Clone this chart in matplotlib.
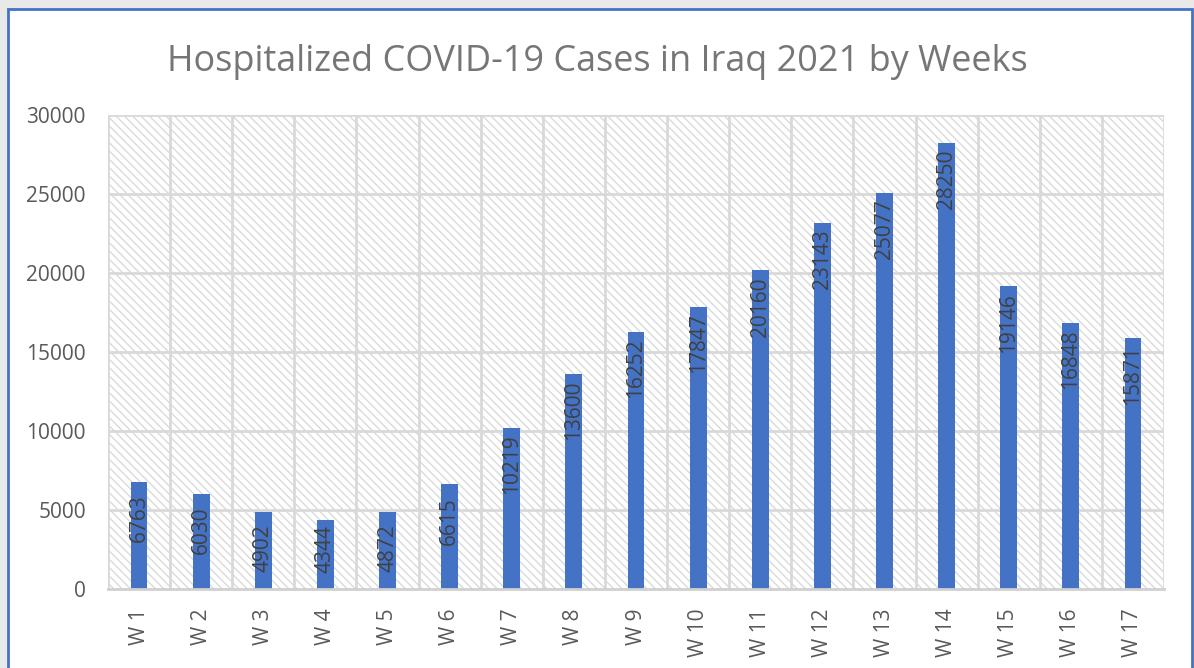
import matplotlib
matplotlib.use('Agg')
import matplotlib.pyplot as plt
from matplotlib.patches import Rectangle

weeks = ['W 1', 'W 2', 'W 3', 'W 4', 'W 5', 'W 6', 'W 7', 'W 8', 'W 9',
         'W 10', 'W 11', 'W 12', 'W 13', 'W 14', 'W 15', 'W 16', 'W 17']
cases = [6763, 6030, 4902, 4344, 4872, 6615, 10219, 13600, 16252,
         17847, 20160, 23143, 25077, 28250, 19146, 16848, 15871]
yticks = [0, 5000, 10000, 15000, 20000, 25000, 30000]

plt.rcParams['font.family'] = ['Open Sans', 'DejaVu Sans']
plt.rcParams['hatch.linewidth'] = 1.0

fig = plt.figure(figsize=(11.94, 6.68), dpi=100)
fig.patch.set_facecolor('#e9e9e9')

# white chart area with blue frame (bottom runs off the picture)
fig.patches.append(Rectangle((8 / 1194, -0.05), 1184 / 1194, 1.05 - 9 / 668,
                             transform=fig.transFigure, facecolor='white',
                             edgecolor='#4472c4', lw=2, zorder=-10))

ax = fig.add_axes([108 / 1194, 79 / 668, 1056 / 1194, 474 / 668])
ax.patch.set_alpha(0)

# hatched plot area
ax.add_patch(Rectangle((0, 0), 1, 1, transform=ax.transAxes, facecolor='white',
                       edgecolor='#dadada', hatch='\\\\\\\\', lw=0, zorder=0))

x = list(range(len(weeks)))
ax.bar(x, cases, width=0.27, color='#4472c4', zorder=3)

for xi, v in zip(x, cases):
    ax.text(xi, max(v - 2300, 2500), str(v), rotation=90, ha='center',
            va='center', fontsize=15, color='#404040', zorder=4)

ax.set_xlim(-0.5, len(weeks) - 0.5)
ax.set_ylim(0, 30000)
ax.set_yticks(yticks)
ax.set_yticklabels([str(t) for t in yticks])
ax.set_xticks(x)
ax.set_xticklabels(weeks, rotation=90)

for yv in yticks[1:]:
    ax.axhline(yv, color='#d9d9d9', lw=2, zorder=1)
for i in range(len(weeks) + 1):
    ax.axvline(i - 0.5, color='#d9d9d9', lw=2, zorder=1)

for s in ['top', 'right', 'left']:
    ax.spines[s].set_visible(False)
ax.spines['bottom'].set_color('#d0d0d0')
ax.spines['bottom'].set_linewidth(2)
ax.spines['bottom'].set_zorder(5)

ax.tick_params(axis='both', length=0, labelsize=15, colors='#595959')
ax.tick_params(axis='y', pad=16)
ax.tick_params(axis='x', pad=14)

fig.text(0.5, 0.907, 'Hospitalized COVID-19 Cases in Iraq 2021 by Weeks',
         ha='center', va='center', fontsize=25.9, color='#767676')

fig.savefig('out.png', dpi=100)
